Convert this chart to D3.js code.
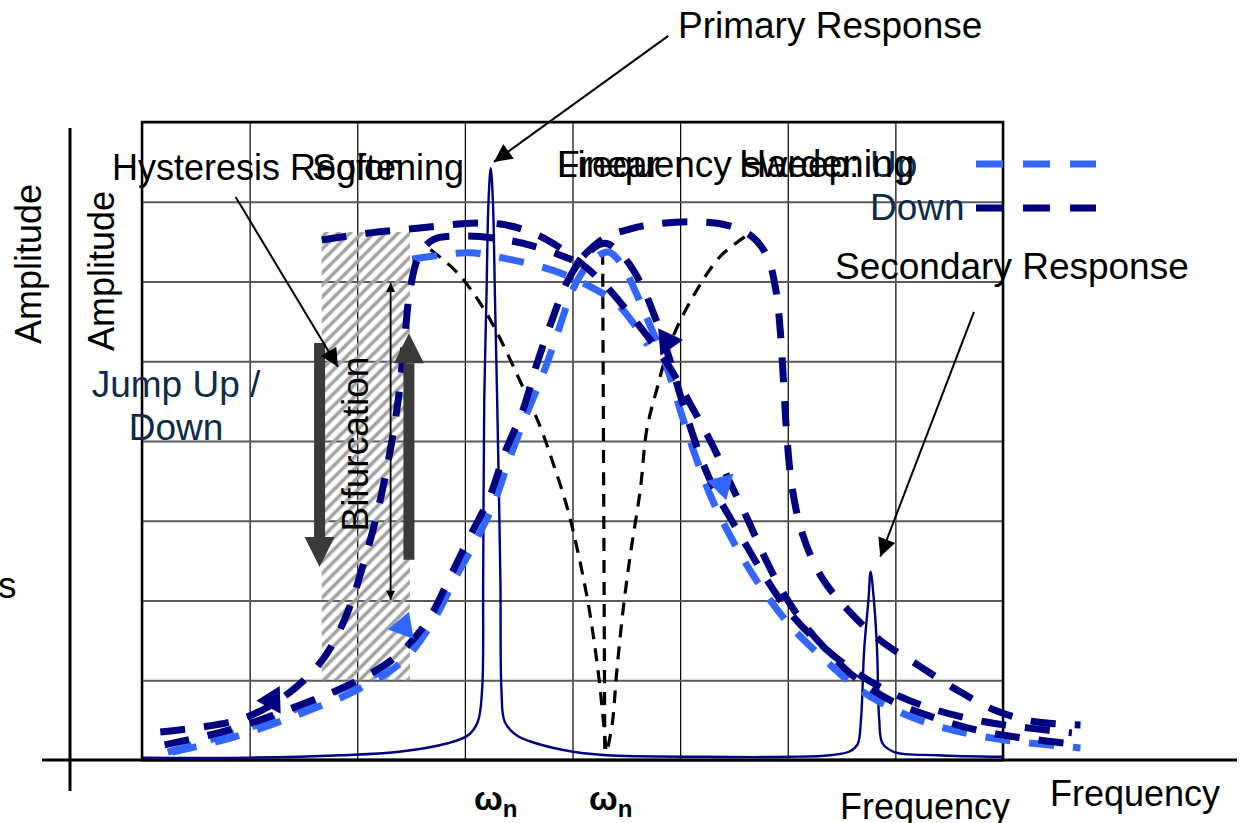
<!DOCTYPE html>
<html>
<head>
<meta charset="utf-8">
<script src="https://cdn.jsdelivr.net/npm/d3@7"></script>
<style>
  html, body { margin: 0; padding: 0; background: #fff; overflow: hidden; }
  svg { display: block; font-family: "Liberation Sans", Arial, sans-serif; }
</style>
</head>
<body>
<svg id="chart" width="1245" height="823"></svg>
<script>
// grid divisions (frequency / amplitude, arbitrary units)
const xTicks = [0, 1, 2, 3, 4, 5, 6, 7, 8];
const yTicks = [0, 1, 2, 3, 4, 5, 6, 7, 8];

// thin solid response: primary + secondary peak
const peakResponse = [[0,0.03],[1.00,0.03],[1.85,0.06],[2.37,0.10],[2.84,0.21],[3.03,0.31],[3.12,0.48],[3.16,0.88],
  [3.17,2.26],[3.18,4.51],[3.20,5.77],[3.22,7.02],[3.24,7.42],[3.26,7.02],[3.28,5.77],[3.30,4.51],[3.33,2.26],
  [3.34,0.88],[3.37,0.48],[3.48,0.31],[3.66,0.21],[4.02,0.10],[4.32,0.06],[5.19,0.04],[6.02,0.04],[6.39,0.06],
  [6.58,0.11],[6.65,0.20],[6.68,0.50],[6.71,1.38],[6.75,2.01],[6.77,2.36],[6.80,2.01],[6.83,1.38],[6.85,0.50],
  [6.88,0.21],[6.99,0.10],[7.39,0.06],[8.00,0.04]];

// sweep down (navy)
const softDownLower = [[0.17,0.35],[0.54,0.41],[0.91,0.51],[1.19,0.68],[1.42,0.90],[1.64,1.19],[1.79,1.50],[1.93,1.92],
  [2.04,2.38],[2.17,3.01],[2.29,3.76],[2.38,4.51],[2.44,5.27],[2.49,5.89],[2.57,6.31],[2.70,6.52],[3.00,6.57],
  [3.39,6.52],[3.70,6.42],[4.00,6.27]];
const softDownUpper = [[1.67,6.52],[2.12,6.61],[2.58,6.67],[3.05,6.73],[3.33,6.72],[3.61,6.62],[3.84,6.46],[4.07,6.24],
  [4.30,5.96],[4.54,5.58],[4.72,5.27],[4.89,4.95],[5.10,4.45],[5.30,3.95],[5.46,3.49],[5.63,3.01],[5.79,2.53],
  [5.96,2.09],[6.16,1.69],[6.38,1.35],[6.63,1.03],[6.95,0.75],[7.32,0.55],[7.74,0.38],[8.16,0.28],[8.72,0.19]];
const linearDown = [[0.21,0.19],[0.82,0.38],[1.47,0.69],[1.98,0.98],[2.38,1.32],[2.66,1.76],[2.86,2.29],[3.03,2.76],
  [3.23,3.30],[3.37,3.85],[3.54,4.39],[3.66,4.93],[3.80,5.48],[3.96,6.02],[4.12,6.33],[4.30,6.48],[4.46,6.33],
  [4.63,5.99],[4.77,5.54],[4.89,5.08],[5.00,4.58],[5.11,4.11],[5.23,3.66],[5.37,3.26],[5.56,2.82],[5.76,2.36],
  [6.00,1.88],[6.28,1.48],[6.60,1.13],[6.97,0.84],[7.37,0.63],[7.83,0.48],[8.25,0.40],[8.64,0.34]];
const hardDown = [[4.10,6.32],[4.30,6.55],[4.54,6.66],[4.77,6.72],[5.09,6.75],[5.45,6.70],[5.67,6.56],[5.81,6.31],
  [5.89,5.89],[5.93,5.39],[5.96,4.76],[5.99,4.10],[6.04,3.42],[6.14,2.82],[6.32,2.28],[6.56,1.88],[6.86,1.50],
  [7.21,1.19],[7.57,0.88],[7.95,0.61],[8.30,0.48],[8.72,0.44]];

// sweep up (light blue)
const softUpLower = [[0.24,0.10],[0.63,0.25],[1.05,0.43],[1.47,0.66],[1.84,0.88],[2.12,1.03],[2.30,1.23],[2.42,1.40]];
const softUpUpper = [[2.51,6.28],[2.77,6.33],[3.05,6.36],[3.37,6.29],[3.82,6.14],[4.16,5.94],[4.40,5.74],[4.58,5.45],
  [4.70,5.20]];
const linearUp = [[0.28,0.10],[0.86,0.29],[1.51,0.60],[2.03,0.90],[2.43,1.25],[2.70,1.73],[2.91,2.28],[3.09,2.72],
  [3.27,3.22],[3.41,3.76],[3.55,4.26],[3.74,4.89],[3.88,5.43],[4.01,5.92],[4.16,6.23],[4.33,6.37],[4.46,6.21],
  [4.58,5.89],[4.72,5.45],[4.86,4.99],[5.00,4.39],[5.14,3.82],[5.30,3.26],[5.51,2.70],[5.74,2.19],[6.02,1.69],
  [6.35,1.25],[6.67,0.88],[7.04,0.60],[7.46,0.40],[7.97,0.26],[8.72,0.15]];

// black dashed backbones
const softBackbone = [[2.68,6.40],[2.93,6.11],[3.21,5.58],[3.51,4.76],[3.70,4.18],[3.82,3.72],[3.95,3.17],[4.04,2.67],
  [4.14,2.01],[4.19,1.59],[4.24,1.09],[4.28,0.59],[4.31,0.13]];
const linearBackbone = [[4.28,6.37],[4.29,3.30],[4.30,0.13]];
const hardBackbone = [[5.60,6.56],[5.37,6.31],[5.12,5.81],[4.91,5.23],[4.79,4.68],[4.69,4.14],[4.63,3.39],[4.54,2.60],
  [4.47,1.88],[4.41,1.09],[4.37,0.46],[4.32,0.10]];

// direction arrowheads on the sweep curves [x, y, angle, sweep]
const sweepArrows = [[1.21,0.75,-62,"down"],[2.43,1.67,170,"up"],[4.88,5.25,-5,"down"],[5.39,3.45,75,"up"]];

// hysteresis band and jumps
const hysteresisBand = [1.67, 2.49, 1.00, 6.62];
const jumps = [[1.65, 5.23, 2.42], [2.48, 2.51, 5.35]];
const bifurcation = [2.31, 5.98, 2.01];

// callout pointers [x1, y1, x2, y2]
const callouts = [[4.89,9.08,3.27,7.50],[0.87,7.06,1.82,4.93],[7.73,5.62,6.86,2.55]];

const NAVY = "#000080", LIGHT = "#3366ff", INK = "#0d2b4a";

const svg = d3.select("#chart");
const x = d3.scaleLinear().domain([0, 8]).range([142, 1003]);
const y = d3.scaleLinear().domain([0, 8]).range([760, 122]);

const defs = svg.append("defs");
const pat = defs.append("pattern").attr("id", "hatch")
  .attr("patternUnits", "userSpaceOnUse").attr("width", 8.5).attr("height", 8.5)
  .attr("patternTransform", "rotate(45)");
pat.append("line").attr("x1", 4.25).attr("y1", 0).attr("x2", 4.25).attr("y2", 8.5)
  .attr("stroke", "#a3a3a3").attr("stroke-width", 3.6);

function marker(id, len, wid) {
  defs.append("marker").attr("id", id).attr("viewBox", "0 0 10 10")
    .attr("refX", 10).attr("refY", 5).attr("markerUnits", "userSpaceOnUse")
    .attr("markerWidth", len).attr("markerHeight", wid).attr("orient", "auto-start-reverse")
    .append("path").attr("d", "M0,0L10,5L0,10z").attr("fill", "#000");
}
marker("head", 24, 18);
marker("small", 13, 9);

svg.append("rect").attr("width", 1245).attr("height", 823).attr("fill", "#fff");

// grid through axes
const gx = svg.append("g").attr("transform", `translate(0,${y(0)})`)
  .call(d3.axisBottom(x).tickValues(xTicks).tickSize(-(y(0) - y(8))).tickFormat(""));
gx.select(".domain").remove();
gx.selectAll(".tick line").attr("stroke", "#000").attr("stroke-width", 1.2);

const gy = svg.append("g").attr("transform", `translate(${x(0)},0)`)
  .call(d3.axisLeft(y).tickValues(yTicks).tickSize(-(x(8) - x(0))).tickFormat(""));
gy.select(".domain").remove();
gy.selectAll(".tick line").attr("stroke", "#5a5a5a").attr("stroke-width", 2);

// hatched hysteresis region
svg.append("rect")
  .attr("x", x(hysteresisBand[0])).attr("y", y(hysteresisBand[3]))
  .attr("width", x(hysteresisBand[1]) - x(hysteresisBand[0]))
  .attr("height", y(hysteresisBand[2]) - y(hysteresisBand[3]))
  .attr("fill", "url(#hatch)");

// plot frame
svg.append("rect").attr("x", x(0)).attr("y", y(8)).attr("width", x(8) - x(0)).attr("height", y(0) - y(8))
  .attr("fill", "none").attr("stroke", "#000").attr("stroke-width", 2.5);

// outer axes
svg.append("line").attr("x1", 70).attr("y1", 128).attr("x2", 70).attr("y2", 791)
  .attr("stroke", "#000").attr("stroke-width", 3);
svg.append("line").attr("x1", 42).attr("y1", y(0)).attr("x2", 1237).attr("y2", y(0))
  .attr("stroke", "#000").attr("stroke-width", 3);

const line = d3.line().x(d => x(d[0])).y(d => y(d[1])).curve(d3.curveCatmullRom.alpha(0.5));

// black dashed backbones
[softBackbone, linearBackbone, hardBackbone].forEach(pts => {
  svg.append("path").attr("d", line(pts)).attr("fill", "none")
    .attr("stroke", "#000").attr("stroke-width", 3.2).attr("stroke-dasharray", "13,9");
});

// thin peaks
svg.append("path").attr("d", line(peakResponse)).attr("fill", "none")
  .attr("stroke", NAVY).attr("stroke-width", 2.4);

// sweep curves: up first, down on top
const sweeps = [
  { pts: linearUp, c: LIGHT }, { pts: softUpUpper, c: LIGHT }, { pts: softUpLower, c: LIGHT },
  { pts: linearDown, c: NAVY }, { pts: softDownUpper, c: NAVY }, { pts: softDownLower, c: NAVY },
  { pts: hardDown, c: NAVY }
];
svg.append("g").selectAll("path").data(sweeps).join("path")
  .attr("d", d => line(d.pts)).attr("fill", "none")
  .attr("stroke", d => d.c).attr("stroke-width", 7).attr("stroke-dasharray", "25,19");

svg.append("g").selectAll("path").data(sweepArrows).join("path")
  .attr("d", d3.symbol(d3.symbolTriangle, 330))
  .attr("transform", d => `translate(${x(d[0])},${y(d[1])}) rotate(${d[2] + 90})`)
  .attr("fill", d => d[3] === "up" ? LIGHT : NAVY);

// jump arrows
jumps.forEach(([jx, y0, y1]) => {
  const px = x(jx), a = y(y0), b = y(y1), dir = Math.sign(b - a), hl = 30;
  svg.append("line").attr("x1", px).attr("y1", a).attr("x2", px).attr("y2", b - dir * hl)
    .attr("stroke", "#3a3a3a").attr("stroke-width", 11);
  svg.append("path").attr("d", `M${px - 15},${b - dir * hl}L${px + 15},${b - dir * hl}L${px},${b}Z`)
    .attr("fill", "#3a3a3a");
});

// bifurcation double arrow
svg.append("line").attr("x1", x(bifurcation[0])).attr("y1", y(bifurcation[1]))
  .attr("x2", x(bifurcation[0])).attr("y2", y(bifurcation[2]))
  .attr("stroke", "#000").attr("stroke-width", 1.8)
  .attr("marker-start", "url(#small)").attr("marker-end", "url(#small)");

// callout pointers
callouts.forEach(c => {
  svg.append("line").attr("x1", x(c[0])).attr("y1", y(c[1])).attr("x2", x(c[2])).attr("y2", y(c[3]))
    .attr("stroke", "#000").attr("stroke-width", 2).attr("marker-end", "url(#head)");
});

// legend
[[164, LIGHT, "Up", 177], [208, NAVY, "Down", 220]].forEach(([ly, c, t, ty]) => {
  svg.append("line").attr("x1", 976).attr("x2", 1096).attr("y1", ly).attr("y2", ly)
    .attr("stroke", c).attr("stroke-width", 7).attr("stroke-dasharray", "27,20");
  svg.append("text").attr("x", 870).attr("y", ty).attr("font-size", 37).attr("fill", INK).text(t);
});

// labels
function label(t, lx, ly, size, opts = {}) {
  const el = svg.append("text").attr("x", lx).attr("y", ly).attr("font-size", size)
    .attr("fill", opts.fill || "#000").text(t);
  if (opts.anchor) el.attr("text-anchor", opts.anchor);
  if (opts.weight) el.attr("font-weight", opts.weight);
  return el;
}
label("Primary Response", 678, 38, 37);
label("Hysteresis Region", 112, 180, 36);
label("Softening", 312, 180, 36);
label("Linear", 557, 177, 37);
label("Frequency sweep:", 557, 177, 37);
label("Hardening", 739, 177, 38);
label("Secondary Response", 835, 279, 37);
label("Jump Up /", 176, 397, 37, { anchor: "middle", fill: INK });
label("Down", 176, 440, 37, { anchor: "middle", fill: INK });
label("s", -2, 598, 37);
label("Frequency", 840, 819, 36);
label("Frequency", 1050, 806, 36);

svg.append("text").attr("transform", "translate(41,264) rotate(-90)")
  .attr("text-anchor", "middle").attr("font-size", 36).text("Amplitude");
svg.append("text").attr("transform", "translate(114,271) rotate(-90)")
  .attr("text-anchor", "middle").attr("font-size", 36).text("Amplitude");
svg.append("text").attr("transform", "translate(368,444) rotate(-90)")
  .attr("text-anchor", "middle").attr("font-size", 37).text("Bifurcation");

// natural frequency marks
[474, 589].forEach(wx => {
  const t = svg.append("text").attr("x", wx).attr("y", 810).attr("font-size", 34).attr("font-weight", "bold");
  t.append("tspan").text("ω");
  t.append("tspan").attr("font-size", 24).attr("dy", 7).text("n");
});
</script>
</body>
</html>
